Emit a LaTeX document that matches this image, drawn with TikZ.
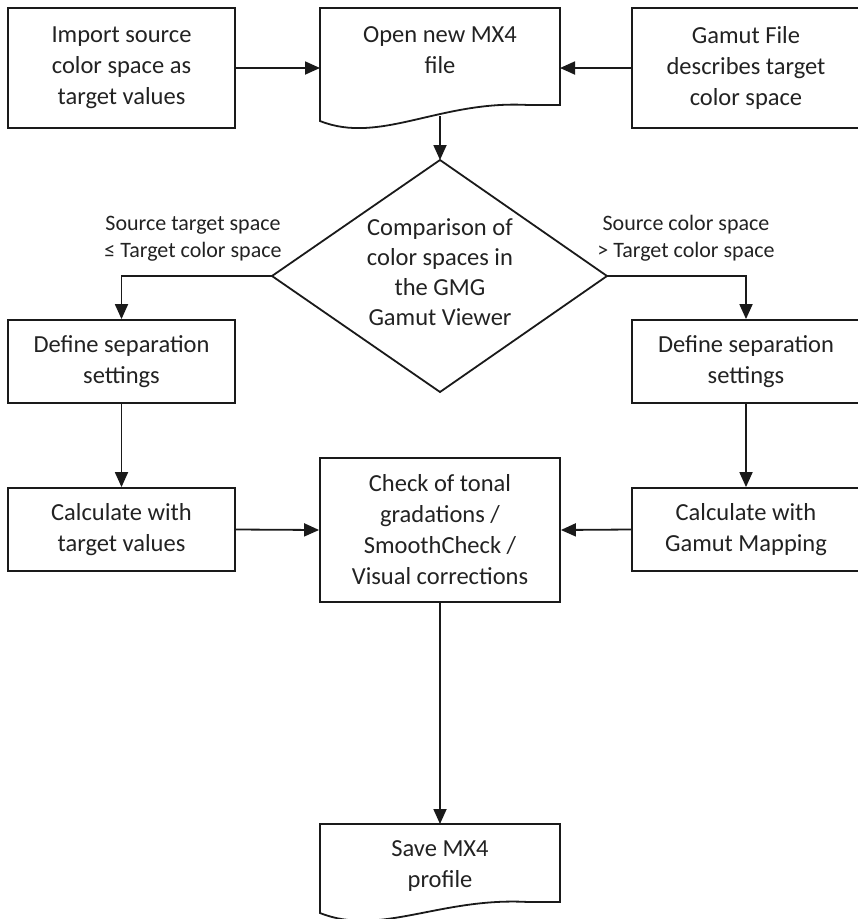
\documentclass[tikz,border=0pt]{standalone}
\usepackage{fontspec}
\setmainfont{Carlito}
\usetikzlibrary{arrows.meta}
\definecolor{ink}{HTML}{1A1A1A}
\definecolor{txt}{HTML}{222222}
\begin{document}
\begin{tikzpicture}[x=1pt,y=-1pt,
  line width=1.8pt,
  box/.style={draw=ink, line width=1.8pt, inner sep=0pt, align=center,
    text=txt, font=\fontsize{24.5}{31}\selectfont},
  plain/.style={inner sep=0pt, align=center, text=txt,
    font=\fontsize{24.5}{31}\selectfont},
  lbl/.style={inner sep=0pt, align=center, text=txt,
    font=\fontsize{22}{27}\selectfont},
  conn/.style={draw=ink, line width=1.8pt, -{Triangle[length=15pt,width=13pt]}},
  shapeline/.style={draw=ink, line width=1.8pt, line join=miter}
]
\useasboundingbox (0,0) rectangle (858,919);

% top row
\node[box, minimum width=227pt, minimum height=120pt] (imp) at (121.5,68)
  {Import source\\color space as\\target values};
\node[box, minimum width=228pt, minimum height=120pt] (gam) at (746,68)
  {Gamut File\\describes target\\color space};
\node[plain, minimum width=240pt] (open) at (440,50.5) {Open new MX4\\file};
\draw[shapeline] (320,8) -- (560,8) -- (560,105) -- (528,105)
  .. controls (440,100) and (380,145) .. (320,121) -- cycle;
\coordinate (openW) at (320,68);
\coordinate (openE) at (560,68);
\coordinate (openB) at (440,116);

% decision
\coordinate (cmpT) at (440,160);
\coordinate (cmpL) at (272,276);
\coordinate (cmpR) at (607,276);
\coordinate (cmpB) at (440,392);
\draw[shapeline] (cmpT) -- (cmpR) -- (cmpB) -- (cmpL) -- cycle;
\node[plain, font=\fontsize{24.5}{30}\selectfont] (cmp) at (440,272.5)
  {Comparison of\\color spaces in\\the GMG\\Gamut Viewer};

\node[lbl] (lblL) at (193,238.5) {Source target space\\≤ Target color space};
\node[lbl] (lblR) at (686,238.5) {Source color space\\> Target color space};

% second row
\node[box, minimum width=227pt, minimum height=83pt] (defL) at (121.5,361.5)
  {Define separation\\settings};
\node[box, minimum width=228pt, minimum height=83pt] (defR) at (746,361.5)
  {Define separation\\settings};

% third row
\node[box, minimum width=227pt, minimum height=83pt] (calcL) at (121.5,529.5)
  {Calculate with\\target values};
\node[box, minimum width=228pt, minimum height=83pt] (calcR) at (746,529.5)
  {Calculate with\\Gamut Mapping};
\node[box, minimum width=240pt, minimum height=144pt] (check) at (440,530)
  {Check of tonal\\gradations /\\SmoothCheck /\\Visual corrections};

% save
\node[plain, minimum width=240pt] (save) at (440,866) {Save MX4\\profile};
\draw[shapeline] (320,824) -- (560,824) -- (560,902) -- (528,902)
  .. controls (440,897) and (380,937) .. (320,913) -- cycle;
\coordinate (saveT) at (440,824);

% connectors
\draw[conn] (imp.east) -- (openW);
\draw[conn] (gam.west) -- (openE);
\draw[conn] (openB) -- (cmpT);
\draw[conn] (cmpL) -| (defL.north);
\draw[conn] (cmpR) -| (defR.north);
\draw[conn] (defL.south) -- (calcL.north);
\draw[conn] (defR.south) -- (calcR.north);
\draw[conn] (calcL.east) -- (check.west);
\draw[conn] (calcR.west) -- (check.east);
\draw[conn] (check.south) -- (saveT);
\end{tikzpicture}
\end{document}
